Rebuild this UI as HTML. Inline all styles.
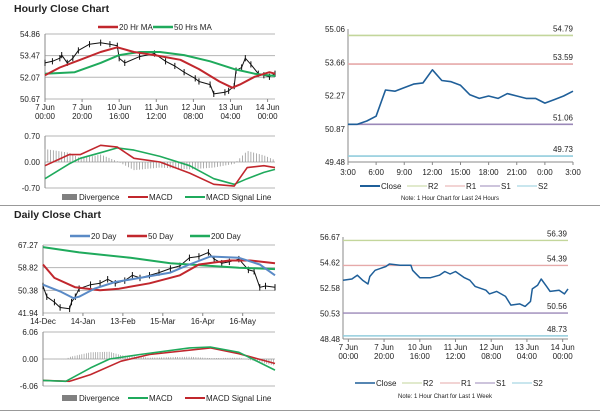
<!DOCTYPE html>
<html><head><meta charset="utf-8"><style>
html,body{margin:0;padding:0;background:#fff;}
svg{display:block;font-family:"Liberation Sans",Arial,sans-serif;}
</style></head><body>
<svg id="s" width="600" height="413" viewBox="0 0 600 413" xmlns="http://www.w3.org/2000/svg"></svg>
<script>
// ---- Hourly (top-left) ----
const hTickLabels1=["7 Jun","7 Jun","10 Jun","11 Jun","12 Jun","13 Jun","14 Jun"];
const hTickLabels2=["00:00","20:00","16:00","12:00","08:00","04:00","00:00"];
const hCloseX=[0,4,8,9,12,15,18,24,30,35,39,40,43,51,59,65,70,75,81,83,89,91,97,99,102,103,106,108,111,115,118,121,124];
const hClose=[53.0,53.1,53.3,53.5,53.0,53.3,53.8,54.2,54.3,54.2,54.1,53.3,53.0,53.4,53.6,53.1,52.8,52.4,52.0,51.8,51.6,51.0,51.1,51.2,51.5,52.5,52.7,53.3,52.9,52.3,52.2,52.1,52.3];
const hMa20X=[0,8,19,30,39,48,59,73,83,94,101,105,113,121,124];
const hMa20=[52.2,52.7,53.2,53.7,54.0,53.7,53.5,53.2,52.6,51.8,51.4,51.6,52.1,52.4,52.3];
const hMa50X=[0,16,30,40,51,62,75,89,102,113,124];
const hMa50=[52.3,52.4,53.0,53.5,53.7,53.7,53.5,53.1,52.6,52.3,52.15];
const hYTicks=[54.86,53.47,52.07,50.67];
const hMacdX=[0,13,19,30,39,48,62,78,91,102,109,118,124];
const hMacd=[-0.1,0.2,0.2,0.45,0.4,0.1,0.0,-0.3,-0.6,-0.65,-0.15,-0.1,-0.15];
const hSignal=[-0.45,-0.05,0.1,0.25,0.38,0.32,0.15,-0.1,-0.45,-0.6,-0.45,-0.28,-0.2];
const hMacdTicks=[0.70,0.00,-0.70];
// ---- Daily (bottom-left) ----
const dTickLabels=["14-Dec","14-Jan","13-Feb","15-Mar","16-Apr","16-May"];
const dCloseX=[0,2,6,9,14,15,17,19,25,30,34,38,43,47,51,56,61,67,72,77,82,87,90,94,98,103,108,111,114,117,122];
const dClose=[52,48,46,44,43.5,46,48,51,52.5,53,54.5,53,54,56,55,56,57,58.5,59.5,62.5,63,64.5,62,60.5,61,62,58,57.5,51.5,52,51.5];
const d20X=[0,9,16,19,27,38,51,67,77,88,103,114,122];
const d20=[52.5,50,47.5,48,51,53.5,55,57,60,63,62.5,60,56];
const d50X=[0,6,17,30,40,56,72,82,98,109,122];
const d50=[60,55,51.5,50.4,51,53,56,60,61.5,61.5,60.5];
const d200X=[0,19,46,67,88,103,122];
const d200=[66.5,64.5,62.5,60.5,59.5,58.8,58.3];
const dYTicks=[67.27,58.82,50.38,41.94];
const dMacdX=[0,12,25,35,51,77,88,103,122];
const dMacd=[-4.8,-5,-2,0,1,2.5,2.7,1.5,-2.5];
const dSigX=[0,14,25,41,56,88,103,122];
const dSig=[-4.8,-5,-3.5,-0.5,1,2.5,1.2,-1];
const dMacdTicks=[6.06,0.00,-6.06];
// ---- 24h pivot (top-right) ----
const pTimes=["3:00","6:00","9:00","12:00","15:00","18:00","21:00","0:00","3:00"];
const pClose=[51.06,51.06,51.2,51.4,52.5,52.45,52.6,52.75,52.8,53.35,52.9,52.85,52.7,52.3,52.15,52.25,52.15,52.35,52.25,52.15,52.15,51.95,52.1,52.25,52.45];
const pYTicks=[55.06,53.66,52.27,50.87,49.48];
const pLevels=[54.79,53.59,51.06,49.73];
// ---- 1 week pivot (bottom-right) ----
const wTick1=["7 Jun","7 Jun","10 Jun","11 Jun","12 Jun","13 Jun","14 Jun"];
const wTick2=["00:00","20:00","16:00","12:00","08:00","04:00","00:00"];
const wCloseX=[-3,2,5,8,11,12,15,21,23,29,35,36,40,46,51,54,57,60,65,68,71,77,79,83,88,91,96,99,102,103,106,108,111,113,118,121,123];
const wClose=[53.2,53.3,53.6,53.2,52.9,53.5,54.0,54.3,54.5,54.4,54.4,54.0,53.4,53.4,53.6,53.9,53.7,53.9,53.4,53.2,52.7,52.4,52.1,52.3,51.9,51.2,51.3,51.1,51.5,52.5,52.8,53.3,52.7,52.3,52.4,52.1,52.5];
const wYTicks=[56.67,54.62,52.58,50.53,48.48];
const wLevels=[56.39,54.39,50.56,48.73];

const NS="http://www.w3.org/2000/svg";
const S=document.getElementById('s');
function el(t,a,p){const e=document.createElementNS(NS,t);for(const k in a)e.setAttribute(k,a[k]);(p||S).appendChild(e);return e;}
function txt(x,y,s,o){o=o||{};const e=el('text',{x:x,y:y,'font-size':o.fs||8,fill:o.fill||'#222','text-anchor':o.a||'start','font-weight':o.fw||'normal'});e.textContent=s;return e;}
function sc(d0,d1,r0,r1){return v=>r0+(v-d0)/(d1-d0)*(r1-r0);}
function interp(xs,ys,x){if(x<=xs[0])return ys[0];for(let i=1;i<xs.length;i++){if(x<=xs[i]){const t=(x-xs[i-1])/(xs[i]-xs[i-1]);return ys[i-1]+t*(ys[i]-ys[i-1]);}}return ys[ys.length-1];}
function line(xs,ys,X,Y,col,w,name){const p=el('polyline',{points:xs.map((x,i)=>X(x).toFixed(1)+','+Y(ys[i]).toFixed(1)).join(' '),fill:'none',stroke:col,'stroke-width':w,'stroke-linejoin':'round'});

return p;}
function grid(ticks,Y,x0,x1,lx,name,col){ticks.forEach(t=>{const g=el('line',{x1:x0,x2:x1,y1:Y(t),y2:Y(t),stroke:col||'#b5b5b5','stroke-width':1});


const l=txt(lx,Y(t)+3,t.toFixed(2),{a:'end'});

});}
function legendLine(x,y,col,label,w){el('line',{x1:x,x2:x+20,y1:y,y2:y,stroke:col,'stroke-width':w||2.5});const t=txt(x+21,y+3,label);

}
function legendBar(x,y,label){el('rect',{x:x,y:y-3,width:15,height:6,fill:'#808080'});const t=txt(x+17,y+3,label);

}
const RED='#c1272d',GRN='#1faa5c',BLU='#5a8ac6',CBL='#1f5f99';

// separators
el('line',{x1:0,x2:600,y1:205.5,y2:205.5,stroke:'#999'});
el('line',{x1:0,x2:600,y1:410.5,y2:410.5,stroke:'#999'});
let t=txt(14,12,'Hourly Close Chart',{fs:10.5,fw:'bold'});


t=txt(14,218,'Daily Close Chart',{fs:10.5,fw:'bold'});



// ===== Hourly top-left =====
(function(){
const X=sc(0,124,45,275),Y=sc(50.67,54.86,99,34);
legendLine(98,27,RED,'20 Hr MA');legendLine(153,27,GRN,'50 Hrs MA');
grid(hYTicks,Y,45,275,40,'hourly');
el('line',{x1:45,x2:45,y1:34,y2:99,stroke:'#888'});
hTickLabels1.forEach((l,i)=>{const x=X(i*20);el('line',{x1:x,x2:x,y1:99,y2:102,stroke:'#888'});txt(x,110,l,{a:'middle'});txt(x,119,hTickLabels2[i],{a:'middle'});});
hCloseX.forEach((x,i)=>{el('line',{x1:X(x),x2:X(x),y1:Y(hClose[i]+0.2),y2:Y(hClose[i]-0.2),stroke:'#111','stroke-width':1});});
line(hCloseX,hClose,X,Y,'#111',1,'hourly-close-line');
line(hMa50X,hMa50,X,Y,GRN,2,'ma50-line');
line(hMa20X,hMa20,X,Y,RED,2,'ma20-line');
const M=sc(-0.7,0.7,188,136);
grid(hMacdTicks,M,45,275,40,'hourly-macd');
el('line',{x1:45,x2:45,y1:136,y2:188,stroke:'#888'});
for(let x=0;x<=124;x+=1.5){const d=interp(hMacdX,hMacd,x)-interp(hMacdX,hSignal,x);
const b=el('line',{x1:X(x),x2:X(x),y1:M(0),y2:M(d),stroke:'#999','stroke-width':0.8});

}
line(hMacdX,hSignal,X,M,GRN,1.6,'macd-signal-line');
line(hMacdX,hMacd,X,M,RED,1.6,'macd-line');
legendBar(62,197,'Divergence');legendLine(128,197,RED,'MACD',2);legendLine(185,197,GRN,'MACD Signal Line',2);
})();

// ===== Daily bottom-left =====
(function(){
const X=sc(0,122,43,275),Y=sc(41.94,67.27,313,245);
legendLine(70,236,BLU,'20 Day');legendLine(127,236,RED,'50 Day');legendLine(190,236,GRN,'200 Day');
grid(dYTicks,Y,43,275,38,'daily');
el('line',{x1:43,x2:43,y1:245,y2:313,stroke:'#888'});
dTickLabels.forEach((l,i)=>{const x=X(i*21);el('line',{x1:x,x2:x,y1:313,y2:316,stroke:'#888'});txt(x,324,l,{a:'middle'});});
dCloseX.forEach((x,i)=>{el('line',{x1:X(x),x2:X(x),y1:Y(dClose[i]+1.2),y2:Y(dClose[i]-1.2),stroke:'#111','stroke-width':1});});
line(dCloseX,dClose,X,Y,'#111',1,'daily-close-line');
line(d200X,d200,X,Y,GRN,2,'ma200-line');
line(d50X,d50,X,Y,RED,2,'ma50-day-line');
line(d20X,d20,X,Y,BLU,2,'ma20-day-line');
const M=sc(-6.06,6.06,386,332);
grid(dMacdTicks,M,43,275,38,'daily-macd');
el('line',{x1:43,x2:43,y1:332,y2:386,stroke:'#888'});
for(let x=0;x<=122;x+=1.2){const d=interp(dMacdX,dMacd,x)-interp(dSigX,dSig,x);
const b=el('line',{x1:X(x),x2:X(x),y1:M(0),y2:M(d),stroke:'#999','stroke-width':0.7});

}
line(dSigX,dSig,X,M,RED,1.6,'daily-macd-signal-line');
line(dMacdX,dMacd,X,M,GRN,1.6,'daily-macd-line');
legendBar(62,398,'Divergence');legendLine(128,398,GRN,'MACD',2);legendLine(185,398,RED,'MACD Signal Line',2);
})();

// ===== Pivot 24h top-right =====
(function(){
const X=sc(0,24,348,573),Y=sc(49.48,55.06,162,29);
el('line',{x1:348,x2:348,y1:29,y2:162,stroke:'#888'});
el('line',{x1:348,x2:573,y1:162,y2:162,stroke:'#888'});
pYTicks.forEach(v=>{const l=txt(345,Y(v)+3,v.toFixed(2),{a:'end'});

});
pTimes.forEach((l,i)=>{const x=X(i*3);el('line',{x1:x,x2:x,y1:162,y2:165,stroke:'#888'});txt(x,175,l,{a:'middle'});});
const cols=['#c3d69b','#e6a9a9','#9b88b8','#93cddd'];
pLevels.forEach((v,i)=>{el('line',{x1:348,x2:573,y1:Y(v),y2:Y(v),stroke:cols[i],'stroke-width':1.6});txt(573,Y(v)-4,v.toFixed(2),{a:'end'});});
line(pClose.map((_,i)=>i),pClose,X,Y,CBL,1.6,'pivot-close-line');
legendLine(360,186,CBL,'Close',2);legendLine(407,186,cols[0],'R2',1);legendLine(445,186,cols[1],'R1',1);legendLine(480,186,cols[2],'S1',1);legendLine(517,186,cols[3],'S2',1);
t=txt(450,200,'Note: 1 Hour Chart for Last 24 Hours',{fs:6,a:'middle'});
})();

// ===== Pivot 1 week bottom-right =====
(function(){
const X=sc(-3,123,343,568),Y=sc(48.48,56.67,339,237);
el('line',{x1:343,x2:343,y1:237,y2:339,stroke:'#888'});
el('line',{x1:343,x2:568,y1:339,y2:339,stroke:'#888'});
wYTicks.forEach(v=>{const l=txt(340,Y(v)+3,v.toFixed(2),{a:'end'});

});
wTick1.forEach((l,i)=>{const x=X(i*20);el('line',{x1:x,x2:x,y1:339,y2:342,stroke:'#888'});txt(x,350,l,{a:'middle'});txt(x,359,wTick2[i],{a:'middle'});});
const cols=['#c3d69b','#e6a9a9','#9b88b8','#93cddd'];
wLevels.forEach((v,i)=>{el('line',{x1:343,x2:568,y1:Y(v),y2:Y(v),stroke:cols[i],'stroke-width':1.4});txt(567,Y(v)-4,v.toFixed(2),{a:'end'});});
line(wCloseX,wClose,X,Y,CBL,1.5,'week-close-line');
legendLine(355,383,CBL,'Close',1.5);legendLine(402,383,cols[0],'R2',1);legendLine(440,383,cols[1],'R1',1);legendLine(475,383,cols[2],'S1',1);legendLine(512,383,cols[3],'S2',1);
txt(445,398,'Note: 1 Hour Chart for Last 1 Week',{fs:6,a:'middle'});
})();
</script>
</body></html>
